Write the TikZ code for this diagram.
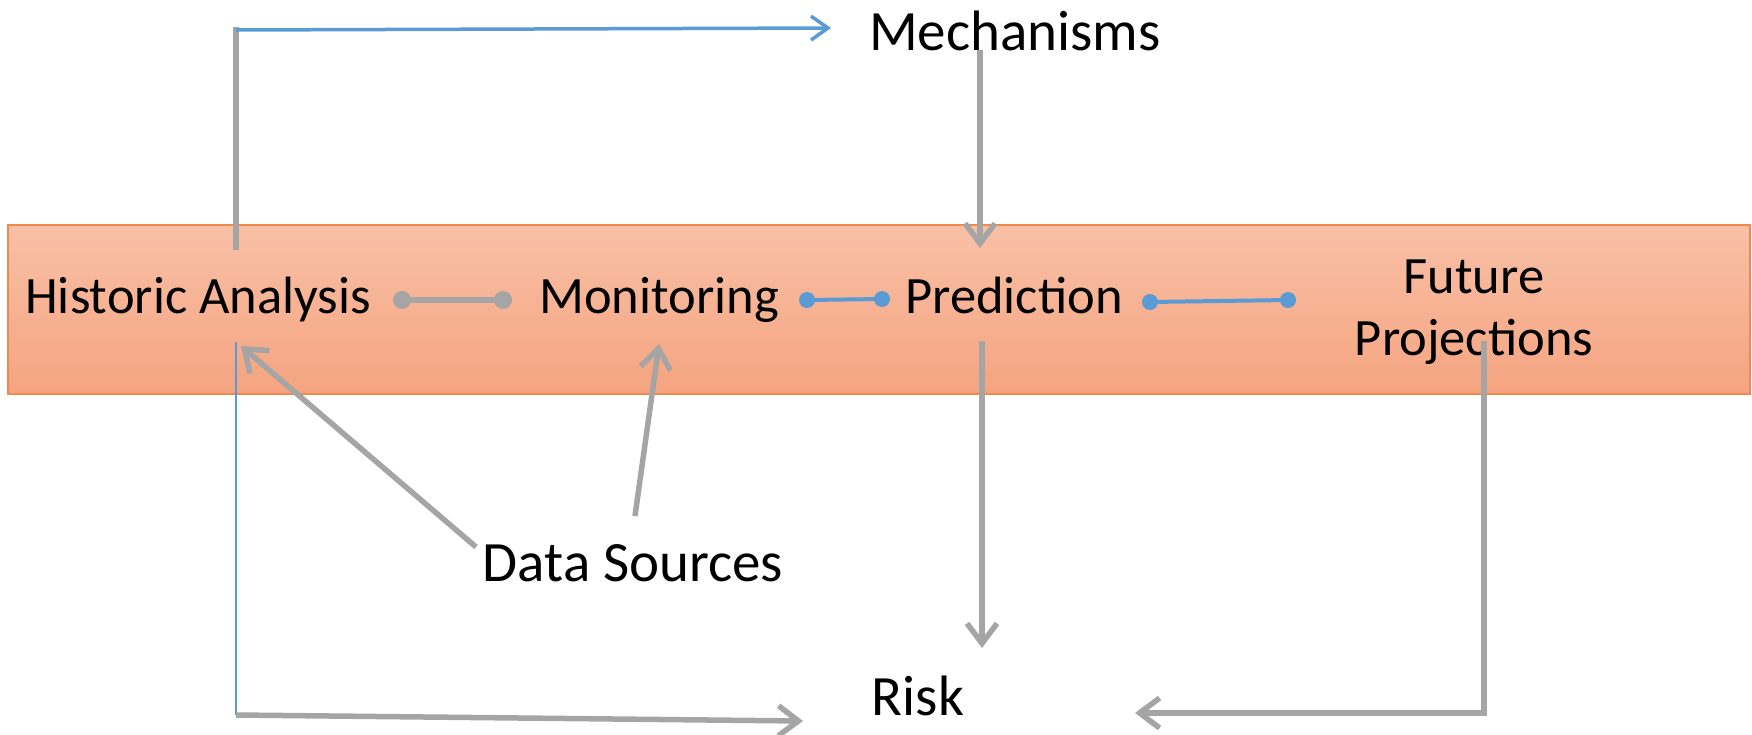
\documentclass[tikz,border=0pt]{standalone}
\usepackage{fontspec}
\setmainfont{Carlito}
\usetikzlibrary{arrows.meta}
\definecolor{lgray}{HTML}{A5A5A5}
\definecolor{lblue}{HTML}{5B9BD5}
\definecolor{bandtop}{HTML}{F8C0A6}
\definecolor{bandbot}{HTML}{F5A480}
\definecolor{bandedge}{HTML}{F08A4B}
\tikzset{
  lbl/.style={font=\fontsize{52.5}{62}\selectfont, inner sep=0pt, anchor=base, align=center},
  olbl/.style={font=\fontsize{57}{68}\selectfont, inner sep=0pt, anchor=base},
  garrow/.style={draw=lgray, line width=5.5pt, -{Straight Barb[length=20pt,width=30pt,line width=5.5pt]}},
  barrow/.style={draw=lblue, line width=3.5pt, -{Straight Barb[length=17pt,width=24pt,line width=3.5pt]}},
  gline/.style={draw=lgray, line width=5.5pt},
  bline/.style={draw=lblue, line width=2.5pt},
  gdot/.style={draw=lgray, line width=6pt},
  bdot/.style={draw=lblue, line width=4pt},
  gdotend/.style={fill=lgray},
  bdotend/.style={fill=lblue},
}
\begin{document}
\begin{tikzpicture}[x=1pt,y=-1pt]
\useasboundingbox (0,0) rectangle (1752,734);
% band
\path[top color=bandtop, bottom color=bandbot, draw=bandedge, line width=1.5pt] (8,225) rectangle (1750,394);
% texts
\node[lbl] (hist) at (198,313) {Historic Analysis};
\node[lbl] (mon) at (659,313) {Monitoring};
\node[lbl] (pred) at (1014,313) {Prediction};
\node[lbl] (fut) at (1474,355) {Future\\Projections};
\node[olbl] (mech) at (1015,50) {Mechanisms};
\node[olbl] (data) at (633,581) {Data Sources};
\node[olbl] (risk) at (918,715) {Risk};
% coordinates
\coordinate (histtop) at (236,250);
\coordinate (corner1) at (236,27);
\coordinate (corner1b) at (236,30);
\coordinate (mechin) at (831,28);
\coordinate (mechout) at (980,50);
\coordinate (predin) at (980,248);
\coordinate (histbot) at (236,342);
\coordinate (corner2) at (236,715);
\coordinate (riskinL) at (803,721);
\coordinate (predout) at (982,341);
\coordinate (riskinT) at (982,648);
\coordinate (futout) at (1484,341);
\coordinate (corner3) at (1484,713);
\coordinate (riskinR) at (1135,713);
\coordinate (datahA) at (476,547);
\coordinate (histin) at (241,346);
\coordinate (datamA) at (635,516);
\coordinate (monin) at (659,344);
\coordinate (hm1) at (402,300);
\coordinate (hm2) at (503,300);
\coordinate (mp1) at (807,300);
\coordinate (mp2) at (882,299);
\coordinate (pf1) at (1150,302);
\coordinate (pf2) at (1288,300);
% connectors
\draw[gline] (histtop) -- (corner1);
\draw[barrow] (corner1b) -- (mechin);
\draw[garrow] (mechout) -- (predin);
\draw[bline] (histbot) -- (corner2);
\draw[garrow] (corner2) -- (riskinL);
\draw[garrow] (predout) -- (riskinT);
\draw[garrow] (futout) -- (corner3) -- (riskinR);
\draw[garrow] (datahA) -- (histin);
\draw[garrow] (datamA) -- (monin);
\draw[gdot] (hm1) -- (hm2);
\fill[gdotend] (hm1) circle[radius=9pt] (hm2) circle[radius=9pt];
\draw[bdot] (mp1) -- (mp2);
\fill[bdotend] (mp1) circle[radius=8pt] (mp2) circle[radius=8pt];
\draw[bdot] (pf1) -- (pf2);
\fill[bdotend] (pf1) circle[radius=8pt] (pf2) circle[radius=8pt];
\end{tikzpicture}
\end{document}
